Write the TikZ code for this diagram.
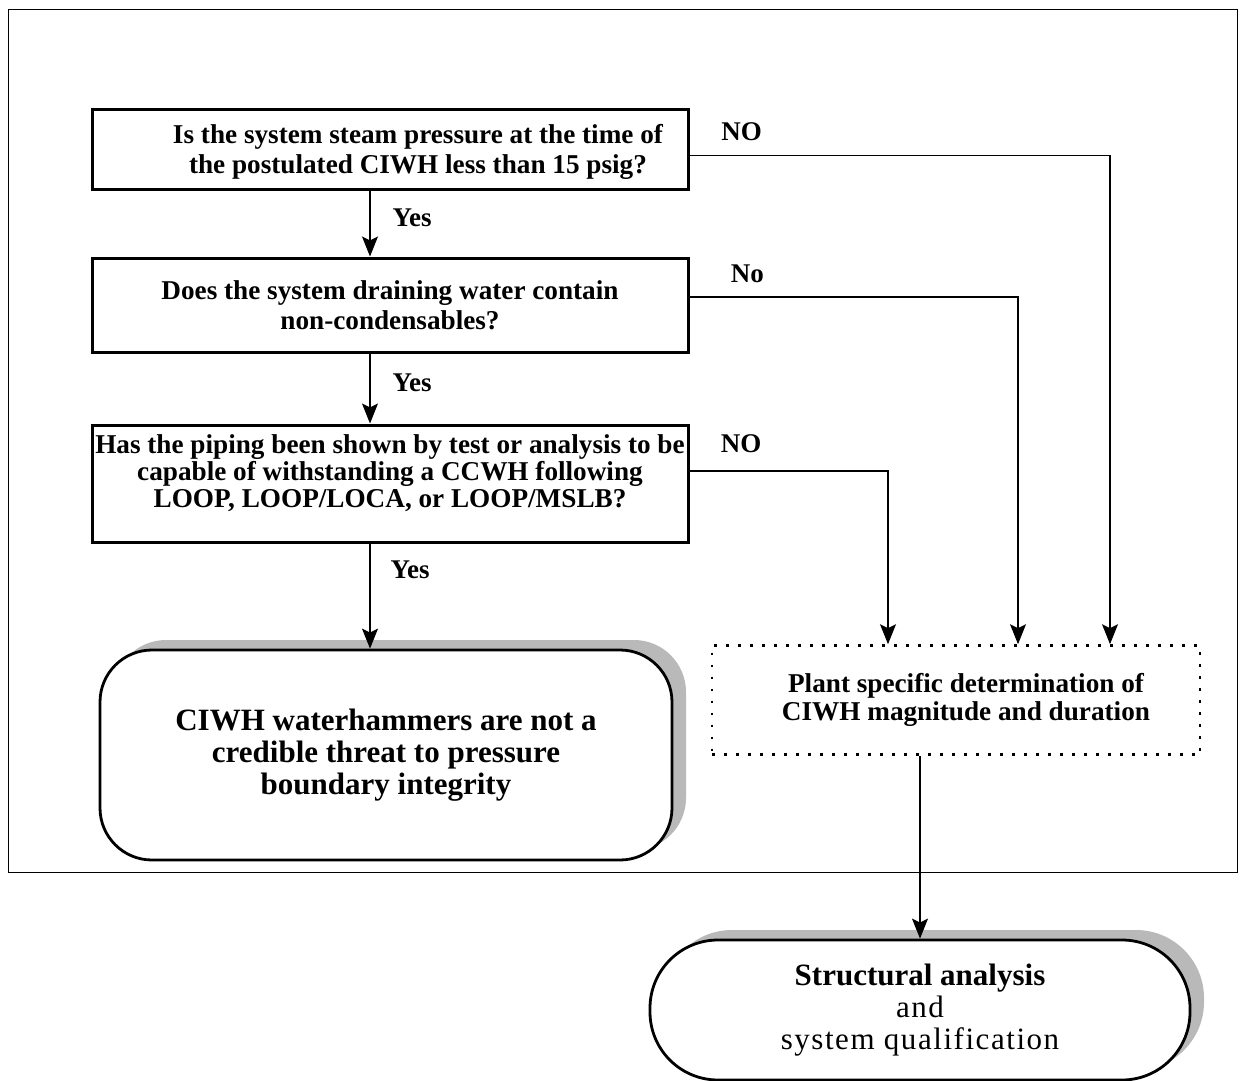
\documentclass[tikz,border=0pt]{standalone}
\usepackage{fontspec}
\setmainfont{Liberation Serif}
\usetikzlibrary{arrows.meta,shadows}

\begin{document}
\begin{tikzpicture}[x=0.5pt,y=-0.5pt,
    question/.style={draw,line width=1.5pt,minimum width=298pt,inner sep=0pt,
        align=center,font=\bfseries\fontsize{13.6}{15}\selectfont},
    plantbox/.style={draw,line width=1.3pt,dash pattern=on 1.3pt off 4.7pt,
        minimum width=244pt,minimum height=54.5pt,align=center,
        font=\bfseries\fontsize{13.6}{14}\selectfont},
    endbox/.style={draw,line width=1.4pt,fill=white,align=center,
        drop shadow={shadow xshift=7pt,shadow yshift=5pt,fill=gray!55,opacity=1}},
    arr/.style={-{Stealth[length=10pt,width=8pt,inset=2pt]},line width=0.6pt},
    lab/.style={font=\bfseries\fontsize{13.5}{14}\selectfont,inner sep=1pt}]
    \useasboundingbox (0,0) rectangle (1242,1081);
    % outer frame
    \draw[line width=0.5pt] (8,10) rectangle (1237,872);

    \node[question,minimum height=39.5pt] (q1) at (390,149.5) {};
    \node[lab,align=center,font=\bfseries\fontsize{13.6}{15}\selectfont] (t1) at (418,152)
        {Is the system steam pressure at the time of\\the postulated CIWH less than 15 psig?};
    \node[question,minimum height=47pt] (q2) at (390,305)
        {Does the system draining water contain\\non-condensables?};
    \node[question,minimum height=58.5pt,font=\bfseries\fontsize{13.6}{13.5}\selectfont] (q3) at (390,483.5)
        {Has the piping been shown by  test or analysis to be\\capable of withstanding a CCWH following\\LOOP, LOOP/LOCA, or LOOP/MSLB?\\[-1pt]};

    \node[plantbox] (plant) at (956,700)
        {\hspace*{10pt}Plant specific determination of\\\hspace*{10pt}CIWH magnitude and duration};

    \node[endbox,rounded corners=26pt,minimum width=286pt,minimum height=105pt,
        font=\bfseries\fontsize{15.5}{16}\selectfont] (end1) at (386,755)
        {CIWH waterhammers are not a\\credible threat to pressure\\boundary integrity};
    \node[endbox,rounded corners=34pt,minimum width=270pt,minimum height=70pt,
        font=\fontsize{15.5}{16}\selectfont] (end2) at (920,1010)
        {\textbf{Structural analysis}\\{\addfontfeatures{LetterSpace=5}and}\\
        {\addfontfeatures{LetterSpace=5}system qualification}};

    % yes branches
    \draw[arr] ([xshift=-10pt]q1.south) -- ([xshift=-10pt]q2.north)
        node[lab,midway,right=10pt,yshift=3pt] {Yes};
    \draw[arr] ([xshift=-10pt]q2.south) -- ([xshift=-10pt]q3.north)
        node[lab,midway,right=10pt,yshift=3pt] {Yes};
    \draw[arr] ([xshift=-10pt]q3.south) -- ([xshift=-8pt]end1.north)
        node[lab,pos=0.25,right=9pt] {Yes};

    % no branches
    \draw[arr] ([yshift=-3pt]q1.east) -| ([xshift=77pt]plant.north)
        node[lab,pos=0.062,above=6pt] {NO};
    \draw[arr] ([yshift=4pt]q2.east) -| ([xshift=31pt]plant.north)
        node[lab,pos=0.088,above=6pt] {No};
    \draw[arr] ([yshift=6.25pt]q3.east) -| ([xshift=-34pt]plant.north)
        node[lab,pos=0.13,above=8pt] {NO};

    \draw[arr] ([xshift=-18pt]plant.south) -- (end2.north);
\end{tikzpicture}
\end{document}
